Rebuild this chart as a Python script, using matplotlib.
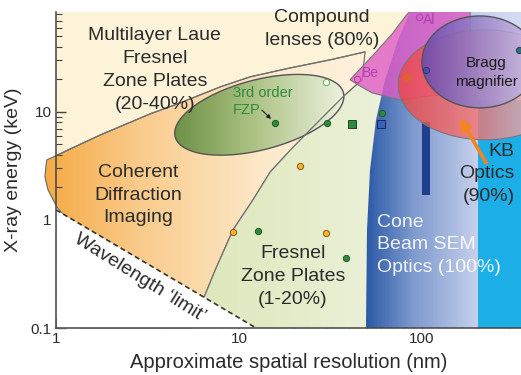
import numpy as np
import matplotlib
matplotlib.use("Agg")
import matplotlib.pyplot as plt
from matplotlib.patches import Polygon, FancyArrowPatch
from matplotlib.colors import LinearSegmentedColormap
from matplotlib.ticker import LogLocator, NullFormatter

plt.rcParams["font.family"] = ["Liberation Sans", "DejaVu Sans"]

# axis ranges
RES_LIM = (1.0, 347.0)      # nm
E_LIM = (0.1, 84.0)         # keV

# wavelength limit (res nm, energy keV)
WL_RES = [1.0, 12.4]
WL_E = [1.24, 0.1]

# boundary between MLL (above) and the lower regions
UPPER_RES = [0.89, 1.74, 3.26, 4.76, 7.87, 11.5, 19.0, 31.4, 48.8]
UPPER_E = [3.59, 6.1, 9.57, 12.1, 17.0, 21.1, 25.5, 30.3, 35.9]

# left edge of the Fresnel zone plate region, bottom to top
FZP_RES = [5.6, 6.12, 7.39, 9.27, 11.9, 14.8, 19.0, 24.4, 37.0, 47.0]
FZP_E = [0.1, 0.156, 0.34, 0.81, 1.53, 2.78, 4.4, 6.8, 13.8, 19.8]

# rounded left end of the CDI region, bottom to top
CDI_END_RES = [1.35, 1.16, 1.01, 0.904, 0.87, 0.88]
CDI_END_E = [0.1, 1.0, 1.32, 1.90, 2.50, 3.10]

# cone beam region, left edge bottom to top
CONE_RES = [49.4, 50.0, 52.0, 56.1, 62.8, 73.9, 86.0]
CONE_E = [0.1, 0.81, 2.9, 8.4, 19.8, 46.4, 84.3]

# compound refractive lens region outline
CRL_RES = [40.4, 47.0, 56.1, 68.6, 80.8, 91.6, 183, 183, 125, 75.8, 53.3, 44.7]
CRL_E = [19.8, 26.1, 35.9, 52.7, 75.9, 98, 98, 30.3, 14.4, 12.9, 15.0, 17.8]

# KB optics band (cyan) and cone-beam bar
KB_RES = (202.0, 347.0)
KB_E_TOP = 12.9
BAR_RES = (100.0, 110.0)
BAR_E = (1.7, 8.1)

# ellipses: centre (nm, keV), semi-axes (screen decades of x), tilt (deg)
FZP3_ELL = (12.9, 9.4, 0.475, 0.191, 14.7)
KB_ELL = (221.0, 17.8, 0.475, 0.300, 0.0)
BRAGG_ELL = (207.0, 29.0, 0.317, 0.251, 0.0)

# data points
GREEN_RES = [15.7, 30.4, 12.7, 38.4, 60.4]
GREEN_E = [7.9, 7.9, 0.79, 0.44, 9.8]
ORANGE_RES = [21.5, 9.27, 29.9]
ORANGE_E = [3.16, 0.77, 0.76]
OPEN_GREEN = (29.9, 18.9)
GREEN_SQ = (41.4, 7.7)
BLUE_SQ = (59.7, 7.7)
BE_PT = (44.1, 20.2)
AL_PT = (96.3, 75.9)
KB_OPEN = (82.8, 21.1)
BRAGG_PT = (105.0, 24.5)
EDGE_PT = (340.0, 37.5)

# arrow ends (tail, head)
KB_ARROW = ((224.0, 3.37), (161.0, 8.8))
FZP3_ARROW = ((13.3, 10.4), (14.96, 8.6))

fig = plt.figure(figsize=(5.21, 3.75), dpi=100)
ax = fig.add_axes([0.1075, 0.1253, 0.8925, 0.8427])
ax.set_xscale("log")
ax.set_yscale("log")

# y decades are shorter than x decades on screen
pos = ax.get_position()
k = (pos.width * 521 / np.log10(RES_LIM[1] / RES_LIM[0])) / \
    (pos.height * 375 / np.log10(E_LIM[1] / E_LIM[0]))


def ellipse(spec):
    cx, cy, rx, ry, ang = spec
    t = np.linspace(0, 2 * np.pi, 241)
    a = np.deg2rad(ang)
    u = rx * np.cos(t) * np.cos(a) - ry * np.sin(t) * np.sin(a)
    v = rx * np.cos(t) * np.sin(a) + ry * np.sin(t) * np.cos(a)
    return np.column_stack([cx * 10 ** u, cy * 10 ** (v * k)])


def shade(pts, stops, x0=None, x1=None, alpha=1.0, z=1, ec="none", lw=0.9,
          clip=True):
    """Fill a polygon with a left-to-right gradient (log-x)."""
    patch = Polygon(pts, closed=True, fc="none", ec=ec, lw=lw,
                    zorder=z + 0.01, clip_on=clip)
    ax.add_patch(patch)
    x0 = pts[:, 0].min() if x0 is None else x0
    x1 = pts[:, 0].max() if x1 is None else x1
    cmap = LinearSegmentedColormap.from_list("g", stops)
    xe = np.logspace(np.log10(x0) - 0.01, np.log10(x1) + 0.01, 300)
    ye = np.array([1e-3, 1e3])
    c = np.linspace(0, 1, len(xe) - 1)[None, :]
    m = ax.pcolormesh(xe, ye, c, cmap=cmap, alpha=alpha, zorder=z,
                      shading="flat", antialiased=False)
    m.set_clip_path(patch)
    if not clip:
        m.set_clip_box(None)
    return patch


# cream background (MLL)
ax.set_facecolor("#FCF3D9")

# coherent diffraction imaging
cdi = np.column_stack([UPPER_RES + FZP_RES[::-1] + CDI_END_RES,
                       UPPER_E + FZP_E[::-1] + CDI_END_E])
shade(cdi, [(0, "#F5A944"), (0.3, "#F9CB8C"), (0.7, "#FCE9CC"), (1, "#FDF1DD")],
      z=1, ec="#666666", lw=0.8, clip=False)

# Fresnel zone plates
fzp = np.column_stack([FZP_RES + [66, 66], FZP_E + [FZP_E[-1], E_LIM[0]]])
shade(fzp, [(0, "#DCE6B8"), (1, "#ECF1DA")], z=2)

# cone beam SEM optics
cone = np.column_stack([CONE_RES + [RES_LIM[1], RES_LIM[1]],
                        CONE_E + [E_LIM[1], E_LIM[0]]])
shade(cone, [(0, "#2857A5"), (0.3, "#7C98CD"), (0.72, "#C6D0EC"), (1, "#D4DCF2")],
      z=3)

# KB optics (cyan)
ax.fill_between(KB_RES, E_LIM[0], KB_E_TOP, color="#1CAEE7", lw=0, zorder=3.5)
ax.fill_between(BAR_RES, BAR_E[0], BAR_E[1], color="#1F3E8C", lw=0, zorder=3.6)

# 3rd order FZP ellipse
shade(ellipse(FZP3_ELL), [(0, "#6C8F45"), (0.45, "#A9C081"), (1, "#EDF1DE")],
      z=4, ec="#555555", lw=1.0)

# region borders
ax.plot(UPPER_RES, UPPER_E, color="#707070", lw=0.9, zorder=4.5)
ax.plot(FZP_RES, FZP_E, color="#707070", lw=0.9, zorder=4.5)

# compound lenses
crl = np.column_stack([CRL_RES, CRL_E])
ax.add_patch(Polygon(crl, closed=True, fc="#E05CC6", alpha=0.8, ec="none", zorder=5))
ax.add_patch(Polygon(crl, closed=True, fc="none", ec="#777777", lw=0.8, zorder=5.01))

# KB ellipse
shade(ellipse(KB_ELL), [(0, "#EE4444"), (0.45, "#F07070"), (1, "#E6E0E0")],
      alpha=0.8, z=6, ec="#777777", lw=0.8)

# Bragg magnifier
shade(ellipse(BRAGG_ELL), [(0, "#6748AC"), (0.5, "#9A84C8"), (1, "#CCC2E8")],
      alpha=0.88, z=7, ec="#555555", lw=1.0)

# below the wavelength limit
ax.fill_between(WL_RES, E_LIM[0], WL_E, color="white", lw=0, zorder=8)
ax.plot(WL_RES, WL_E, color="#333333", lw=1.2, ls=(0, (3, 2)), zorder=8.1)

# data points
mk = dict(ls="none", zorder=9, mew=0.7)
ax.plot(GREEN_RES, GREEN_E, "o", ms=4.5, mfc="#2E8B3E", mec="#1E5A28", **mk)
ax.plot(ORANGE_RES, ORANGE_E, "o", ms=4.5, mfc="#F6B333", mec="#8A5A10", **mk)
ax.plot(*OPEN_GREEN, "o", ms=4.5, mfc="white", mec="#5DB04A", **mk)
ax.plot(*GREEN_SQ, "s", ms=6, mfc="#2E8B3E", mec="#1E4A28", **mk)
ax.plot(*BLUE_SQ, "s", ms=6, mfc="#3A62B4", mec="#1A2A60", **mk)
ax.plot(*BE_PT, "o", ms=4.5, mfc="none", mec="#C23AA8", **mk)
ax.plot(*AL_PT, "o", ms=4.5, mfc="none", mec="#C23AA8", **mk)
ax.plot(*KB_OPEN, "o", ms=4.5, mfc="#E85A3A", mec="#D07010", mew=1.0, ls="none", zorder=9)
ax.plot(*BRAGG_PT, "o", ms=4.5, mfc="#4A4EB0", mec="#34347A", **mk)
ax.plot(*EDGE_PT, "o", ms=4.5, mfc="#2F6F80", mec="#204850", **mk)

# arrows
ax.add_patch(FancyArrowPatch(*KB_ARROW, arrowstyle="-|>", mutation_scale=16,
                             color="#F58420", lw=2.6, shrinkA=0, shrinkB=0,
                             zorder=12))
ax.add_patch(FancyArrowPatch(*FZP3_ARROW, arrowstyle="-|>", mutation_scale=6,
                             color="#222222", lw=0.8, shrinkA=0, shrinkB=0,
                             zorder=12))

# labels
tc = "#2B2B2B"
txt = dict(fontsize=14, color=tc, ha="center", va="center", zorder=11,
           linespacing=1.45)
ax.text(3.47, 24.5, "Multilayer Laue\nFresnel\nZone Plates\n(20-40%)", **txt)
ax.text(28.4, 58, "Compound\nlenses (80%)", **txt)
ax.text(2.81, 1.70, "Coherent\nDiffraction\nImaging", **txt)
ax.text(19.7, 0.30, "Fresnel\nZone Plates\n(1-20%)", **txt)
ax.text(320, 2.67, "KB\nOptics\n(90%)", fontsize=14, color=tc, ha="right",
        va="center", multialignment="right", zorder=11, linespacing=1.45)
ax.text(224, 23.2, "Bragg\nmagnifier", fontsize=11, color="#1A1A1A", ha="center",
        va="center", zorder=11, linespacing=1.43)
ax.text(56.8, 0.59, "Cone\nBeam SEM\nOptics (100%)", fontsize=14, color="white",
        alpha=0.9, ha="left", va="center", zorder=11, linespacing=1.42)
ax.text(2.88, 0.29, "Wavelength \u2018limit\u2019", fontsize=14, color=tc,
        rotation=-32, rotation_mode="anchor", ha="center", va="center", zorder=11)
ax.text(9.27, 12.5, "3rd order\nFZP", fontsize=10.5, color="#2E8B3E", ha="left",
        va="center", zorder=11, linespacing=1.34)
ax.text(47, 23, "Be", fontsize=10, color="#B040B0", ha="left", va="center", zorder=11)
ax.text(101, 71, "Al", fontsize=10, color="#B040B0", ha="left", va="center", zorder=11)

# axes
ax.set_xlim(*RES_LIM)
ax.set_ylim(*E_LIM)
ax.set_xticks([1, 10, 100], labels=["1", "10", "100"])
ax.set_yticks([0.1, 1, 10], labels=["0.1", "1", "10"])
ax.xaxis.set_minor_locator(LogLocator(subs=np.arange(2, 10)))
ax.yaxis.set_minor_locator(LogLocator(subs=np.arange(2, 10)))
ax.xaxis.set_minor_formatter(NullFormatter())
ax.yaxis.set_minor_formatter(NullFormatter())
ax.tick_params(which="both", direction="in", color="#444444", labelsize=11,
               labelcolor=tc, pad=3)
ax.tick_params(which="major", length=7, width=1.0)
ax.tick_params(which="minor", length=4, width=0.8)
for sp in ("top", "right"):
    ax.spines[sp].set_visible(False)
for sp in ("left", "bottom"):
    ax.spines[sp].set_color("#444444")
    ax.spines[sp].set_linewidth(1.1)
    ax.spines[sp].set_zorder(12)
ax.set_xlabel("Approximate spatial resolution (nm)", fontsize=14.5, color=tc, labelpad=5)
ax.set_ylabel("X-ray energy (keV)", fontsize=14, color=tc, labelpad=6)

fig.savefig("out.png", dpi=100)
